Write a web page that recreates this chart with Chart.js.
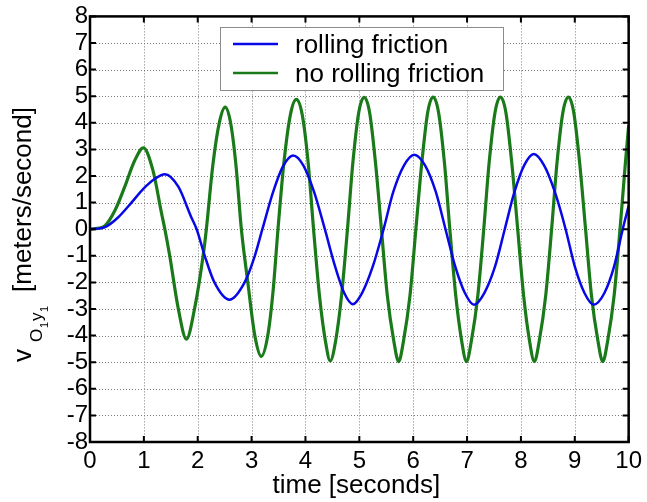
<!DOCTYPE html>
<html>
<head>
<meta charset="utf-8">
<script src="https://cdn.jsdelivr.net/npm/chart.js@4.4.1/dist/chart.umd.min.js"></script>
<style>
  html, body { margin: 0; padding: 0; background: #fff; }
  canvas { display: block; }
</style>
</head>
<body>
<canvas id="c" width="647" height="502"></canvas>
<script>
// Velocity of point O1 along y1 for the two friction models
const seriesLabels = ['rolling friction', 'no rolling friction'];
const seriesColors = ['#0808e6', '#1a7a1a'];

const tRolling = [0, 0.28, 0.52, 0.77, 0.99, 1.2, 1.39, 1.64, 1.88, 1.98, 2.13, 2.31, 2.59, 2.87, 3.06, 3.2,
  3.4, 3.58, 3.77, 3.96, 4.16, 4.36, 4.55, 4.72, 4.88, 5.05, 5.25, 5.45, 5.63, 5.83, 6.02, 6.22, 6.42, 6.6,
  6.78, 6.96, 7.13, 7.32, 7.52, 7.7, 7.88, 8.06, 8.24, 8.43, 8.63, 8.83, 9.0, 9.18, 9.35, 9.55, 9.73, 9.89, 10];
const vRolling = [0, 0.08, 0.44, 1.0, 1.52, 1.89, 2.07, 1.6, 0.45, 0, -1.0, -2.0, -2.65, -2.0, -1.0, 0,
  1.4, 2.35, 2.77, 2.4, 1.4, 0, -1.4, -2.4, -2.82, -2.4, -1.4, 0, 1.4, 2.4, 2.8, 2.4, 1.4, 0,
  -1.4, -2.4, -2.84, -2.4, -1.4, 0, 1.4, 2.4, 2.83, 2.4, 1.4, 0, -1.4, -2.4, -2.84, -2.4, -1.4, 0, 0.88];

const tNoRolling = [0, 0.14, 0.28, 0.46, 0.64, 0.83, 0.99, 1.17, 1.33, 1.39, 1.48, 1.64, 1.79, 1.94, 2.1, 2.16,
  2.28, 2.4, 2.51, 2.61, 2.71, 2.81, 2.93, 3.06, 3.18, 3.3, 3.4, 3.49, 3.6, 3.72, 3.83, 3.94, 4.05, 4.15,
  4.26, 4.37, 4.46, 4.56, 4.67, 4.78, 4.88, 4.99, 5.09, 5.19, 5.3, 5.41, 5.52, 5.64, 5.73, 5.82, 5.94, 6.05,
  6.16, 6.27, 6.37, 6.47, 6.58, 6.68, 6.79, 6.9, 6.99, 7.08, 7.2, 7.31, 7.41, 7.52, 7.62, 7.72, 7.83, 7.94,
  8.05, 8.16, 8.25, 8.34, 8.46, 8.57, 8.67, 8.78, 8.88, 8.98, 9.09, 9.2, 9.31, 9.43, 9.52, 9.61, 9.73, 9.84,
  9.94, 10];
const vNoRolling = [0, 0.03, 0.13, 0.69, 1.57, 2.58, 3.06, 2.2, 0.58, 0, -1.0, -3.0, -4.13, -3.0, -1.0, 0,
  2.4, 4.0, 4.59, 4.0, 2.4, 0, -2.0, -4.0, -4.78, -4.0, -2.3, 0, 2.5, 4.3, 4.88, 4.3, 2.5, 0,
  -2.5, -4.2, -4.95, -4.2, -2.5, 0, 2.5, 4.4, 4.96, 4.4, 2.5, 0, -2.5, -4.2, -4.98, -4.2, -2.5, 0,
  2.5, 4.4, 4.97, 4.4, 2.5, 0, -2.5, -4.2, -4.98, -4.2, -2.5, 0, 2.5, 4.4, 4.97, 4.4, 2.5, 0,
  -2.5, -4.2, -4.98, -4.2, -2.5, 0, 2.5, 4.4, 4.97, 4.4, 2.5, 0, -2.5, -4.2, -4.98, -4.2, -2.5, 0,
  2.5, 3.9];

const xRange = [0, 10];
const yRange = [-8, 8];
const xTitle = 'time [seconds]';

const FONT = "'Liberation Sans', Arial, Helvetica, sans-serif";

function toPoints(ts, vs) {
  return ts.map((t, i) => ({ x: t, y: vs[i] }));
}

// Dotted grid, boxed frame with inward ticks, legend and axis titles
const framePlugin = {
  id: 'frame',
  beforeDatasetsDraw(chart) {
    const { ctx, chartArea: a, scales: { x, y } } = chart;
    ctx.save();
    ctx.strokeStyle = '#7a7a7a';
    ctx.lineWidth = 1;
    ctx.setLineDash([1, 2]);
    x.ticks.forEach(t => {
      const px = Math.round(x.getPixelForValue(t.value)) + 0.5;
      ctx.beginPath(); ctx.moveTo(px, a.top); ctx.lineTo(px, a.bottom); ctx.stroke();
    });
    y.ticks.forEach(t => {
      const py = Math.round(y.getPixelForValue(t.value)) + 0.5;
      ctx.beginPath(); ctx.moveTo(a.left, py); ctx.lineTo(a.right, py); ctx.stroke();
    });
    ctx.restore();
  },
  afterDatasetsDraw(chart) {
    const { ctx, chartArea: a, scales: { x, y } } = chart;
    ctx.save();
    // inward tick marks on all four sides
    ctx.strokeStyle = '#000';
    ctx.lineWidth = 2;
    const len = 6;
    x.ticks.forEach(t => {
      const px = x.getPixelForValue(t.value);
      ctx.beginPath();
      ctx.moveTo(px, a.bottom); ctx.lineTo(px, a.bottom - len);
      ctx.moveTo(px, a.top); ctx.lineTo(px, a.top + len);
      ctx.stroke();
    });
    y.ticks.forEach(t => {
      const py = y.getPixelForValue(t.value);
      ctx.beginPath();
      ctx.moveTo(a.left, py); ctx.lineTo(a.left + len, py);
      ctx.moveTo(a.right, py); ctx.lineTo(a.right - len, py);
      ctx.stroke();
    });
    // axes box
    ctx.lineWidth = 2.5;
    ctx.strokeRect(a.left, a.top, a.right - a.left, a.bottom - a.top);

    // legend
    const lx = 220, ly = 27, lw = 283, lh = 63;
    ctx.fillStyle = '#fff';
    ctx.fillRect(lx, ly, lw, lh);
    ctx.strokeStyle = '#8c8c8c';
    ctx.lineWidth = 1;
    ctx.strokeRect(lx + 0.5, ly + 0.5, lw, lh);
    const rows = [{ line: 44, base: 53 }, { line: 73, base: 82 }];
    chart.data.datasets.forEach((ds, i) => {
      ctx.strokeStyle = ds.borderColor;
      ctx.lineWidth = 2.5;
      ctx.beginPath(); ctx.moveTo(233, rows[i].line); ctx.lineTo(278, rows[i].line); ctx.stroke();
      ctx.fillStyle = '#000';
      ctx.font = '26px ' + FONT;
      ctx.textAlign = 'left';
      ctx.textBaseline = 'alphabetic';
      ctx.fillText(ds.label, 295, rows[i].base);
    });

    // x axis title
    ctx.fillStyle = '#000';
    ctx.font = '26px ' + FONT;
    ctx.textAlign = 'center';
    ctx.textBaseline = 'alphabetic';
    ctx.fillText(xTitle, (a.left + a.right) / 2 - 3, 493);

    // y axis title with nested subscripts, reading bottom to top
    ctx.translate(31, 362);
    ctx.rotate(-Math.PI / 2);
    ctx.textAlign = 'left';
    const parts = [
      { s: 'v', size: 26, at: 0, dy: 0 },
      { s: 'O', size: 17, at: 20, dy: 11 },
      { s: '1', size: 11, at: 34, dy: 17 },
      { s: 'y', size: 17, at: 41, dy: 11 },
      { s: '1', size: 11, at: 50, dy: 17 },
      { s: '[meters/second]', size: 26, at: 70, dy: 0 }
    ];
    parts.forEach(p => {
      ctx.font = p.size + 'px ' + FONT;
      ctx.fillText(p.s, p.at, p.dy);
    });
    ctx.restore();
  }
};

new Chart(document.getElementById('c'), {
  type: 'line',
  data: {
    datasets: [
      {
        label: seriesLabels[0],
        data: toPoints(tRolling, vRolling),
        borderColor: seriesColors[0],
        borderWidth: 2.5,
        pointRadius: 0,
        cubicInterpolationMode: 'monotone',
        fill: false
      },
      {
        label: seriesLabels[1],
        data: toPoints(tNoRolling, vNoRolling),
        borderColor: seriesColors[1],
        borderWidth: 3.2,
        pointRadius: 0,
        cubicInterpolationMode: 'monotone',
        fill: false
      }
    ]
  },
  options: {
    responsive: false,
    animation: false,
    devicePixelRatio: 1,
    layout: { padding: { left: 0, right: 17, top: 16, bottom: 0 } },
    plugins: { legend: { display: false }, tooltip: { enabled: false } },
    scales: {
      x: {
        type: 'linear',
        min: xRange[0], max: xRange[1],
        ticks: { stepSize: 1, autoSkip: false, color: '#000', font: { family: FONT, size: 24 }, padding: 5, maxRotation: 0 },
        grid: { display: false, drawTicks: false },
        border: { display: false },
        afterFit(scale) { scale.height = 60; }
      },
      y: {
        type: 'linear',
        min: yRange[0], max: yRange[1],
        ticks: { stepSize: 1, autoSkip: false, color: '#000', font: { family: FONT, size: 24 }, padding: 2 },
        grid: { display: false, drawTicks: false },
        border: { display: false },
        afterFit(scale) { scale.width = 90; }
      }
    }
  },
  plugins: [framePlugin]
});
</script>
</body>
</html>
